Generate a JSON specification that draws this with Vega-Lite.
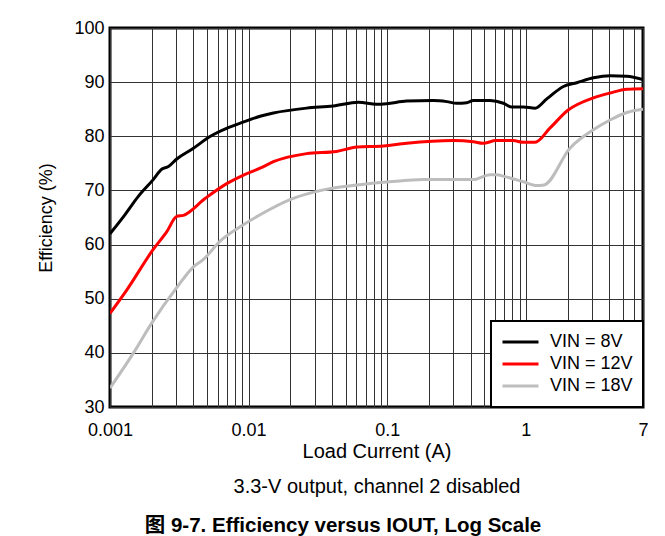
{
  "$schema": "https://vega.github.io/schema/vega-lite/v6.json",
  "width": 533,
  "height": 379,
  "autosize": {"type": "none"},
  "padding": {"left": 110, "top": 28, "right": 22, "bottom": 129},
  "title": {
    "text": "图 9-7. Efficiency versus IOUT, Log Scale",
    "orient": "bottom",
    "anchor": "middle",
    "frame": "bounds",
    "font": "Liberation Sans, Noto Sans CJK SC",
    "fontSize": 20.5,
    "fontWeight": "bold",
    "color": "black",
    "offset": 20
  },
  "data": {
    "values": [
      {"x": 0.001, "eff": 62.0, "s": "VIN = 8V"},
      {"x": 0.00128, "eff": 65.5, "s": "VIN = 8V"},
      {"x": 0.0016, "eff": 68.9, "s": "VIN = 8V"},
      {"x": 0.00205, "eff": 72.0, "s": "VIN = 8V"},
      {"x": 0.00236, "eff": 73.9, "s": "VIN = 8V"},
      {"x": 0.00264, "eff": 74.4, "s": "VIN = 8V"},
      {"x": 0.00303, "eff": 75.8, "s": "VIN = 8V"},
      {"x": 0.0039, "eff": 77.6, "s": "VIN = 8V"},
      {"x": 0.0053, "eff": 80.0, "s": "VIN = 8V"},
      {"x": 0.007, "eff": 81.5, "s": "VIN = 8V"},
      {"x": 0.0091, "eff": 82.6, "s": "VIN = 8V"},
      {"x": 0.0121, "eff": 83.7, "s": "VIN = 8V"},
      {"x": 0.0151, "eff": 84.3, "s": "VIN = 8V"},
      {"x": 0.0262, "eff": 85.2, "s": "VIN = 8V"},
      {"x": 0.0408, "eff": 85.6, "s": "VIN = 8V"},
      {"x": 0.062, "eff": 86.3, "s": "VIN = 8V"},
      {"x": 0.084, "eff": 85.9, "s": "VIN = 8V"},
      {"x": 0.099, "eff": 86.0, "s": "VIN = 8V"},
      {"x": 0.138, "eff": 86.5, "s": "VIN = 8V"},
      {"x": 0.215, "eff": 86.6, "s": "VIN = 8V"},
      {"x": 0.269, "eff": 86.4, "s": "VIN = 8V"},
      {"x": 0.317, "eff": 86.1, "s": "VIN = 8V"},
      {"x": 0.375, "eff": 86.2, "s": "VIN = 8V"},
      {"x": 0.418, "eff": 86.6, "s": "VIN = 8V"},
      {"x": 0.552, "eff": 86.6, "s": "VIN = 8V"},
      {"x": 0.689, "eff": 86.1, "s": "VIN = 8V"},
      {"x": 0.791, "eff": 85.4, "s": "VIN = 8V"},
      {"x": 0.96, "eff": 85.4, "s": "VIN = 8V"},
      {"x": 1.165, "eff": 85.2, "s": "VIN = 8V"},
      {"x": 1.415, "eff": 86.9, "s": "VIN = 8V"},
      {"x": 1.866, "eff": 89.2, "s": "VIN = 8V"},
      {"x": 2.33, "eff": 89.9, "s": "VIN = 8V"},
      {"x": 3.07, "eff": 90.8, "s": "VIN = 8V"},
      {"x": 4.05, "eff": 91.2, "s": "VIN = 8V"},
      {"x": 5.35, "eff": 91.1, "s": "VIN = 8V"},
      {"x": 7, "eff": 90.5, "s": "VIN = 8V"},

      {"x": 0.001, "eff": 47.3, "s": "VIN = 12V"},
      {"x": 0.00132, "eff": 51.6, "s": "VIN = 12V"},
      {"x": 0.00205, "eff": 59.1, "s": "VIN = 12V"},
      {"x": 0.00257, "eff": 62.4, "s": "VIN = 12V"},
      {"x": 0.00303, "eff": 65.2, "s": "VIN = 12V"},
      {"x": 0.00338, "eff": 65.4, "s": "VIN = 12V"},
      {"x": 0.0049, "eff": 68.6, "s": "VIN = 12V"},
      {"x": 0.007, "eff": 71.3, "s": "VIN = 12V"},
      {"x": 0.0091, "eff": 72.8, "s": "VIN = 12V"},
      {"x": 0.0121, "eff": 74.1, "s": "VIN = 12V"},
      {"x": 0.0151, "eff": 75.3, "s": "VIN = 12V"},
      {"x": 0.0262, "eff": 76.8, "s": "VIN = 12V"},
      {"x": 0.043, "eff": 77.2, "s": "VIN = 12V"},
      {"x": 0.0604, "eff": 78.0, "s": "VIN = 12V"},
      {"x": 0.094, "eff": 78.2, "s": "VIN = 12V"},
      {"x": 0.138, "eff": 78.7, "s": "VIN = 12V"},
      {"x": 0.3, "eff": 79.2, "s": "VIN = 12V"},
      {"x": 0.418, "eff": 79.0, "s": "VIN = 12V"},
      {"x": 0.49, "eff": 78.7, "s": "VIN = 12V"},
      {"x": 0.61, "eff": 79.2, "s": "VIN = 12V"},
      {"x": 0.81, "eff": 79.2, "s": "VIN = 12V"},
      {"x": 0.96, "eff": 78.9, "s": "VIN = 12V"},
      {"x": 1.165, "eff": 78.9, "s": "VIN = 12V"},
      {"x": 1.49, "eff": 81.5, "s": "VIN = 12V"},
      {"x": 2.01, "eff": 84.8, "s": "VIN = 12V"},
      {"x": 3.07, "eff": 87.1, "s": "VIN = 12V"},
      {"x": 4.05, "eff": 88.0, "s": "VIN = 12V"},
      {"x": 5.35, "eff": 88.7, "s": "VIN = 12V"},
      {"x": 7, "eff": 88.8, "s": "VIN = 12V"},

      {"x": 0.001, "eff": 33.5, "s": "VIN = 18V"},
      {"x": 0.00147, "eff": 39.9, "s": "VIN = 18V"},
      {"x": 0.002, "eff": 45.5, "s": "VIN = 18V"},
      {"x": 0.003, "eff": 51.9, "s": "VIN = 18V"},
      {"x": 0.004, "eff": 55.9, "s": "VIN = 18V"},
      {"x": 0.0047, "eff": 57.2, "s": "VIN = 18V"},
      {"x": 0.0062, "eff": 60.6, "s": "VIN = 18V"},
      {"x": 0.0091, "eff": 63.6, "s": "VIN = 18V"},
      {"x": 0.0121, "eff": 65.5, "s": "VIN = 18V"},
      {"x": 0.0199, "eff": 68.3, "s": "VIN = 18V"},
      {"x": 0.0346, "eff": 70.1, "s": "VIN = 18V"},
      {"x": 0.0604, "eff": 71.0, "s": "VIN = 18V"},
      {"x": 0.104, "eff": 71.6, "s": "VIN = 18V"},
      {"x": 0.183, "eff": 72.0, "s": "VIN = 18V"},
      {"x": 0.418, "eff": 72.0, "s": "VIN = 18V"},
      {"x": 0.552, "eff": 72.9, "s": "VIN = 18V"},
      {"x": 0.61, "eff": 72.9, "s": "VIN = 18V"},
      {"x": 0.72, "eff": 72.5, "s": "VIN = 18V"},
      {"x": 0.96, "eff": 71.6, "s": "VIN = 18V"},
      {"x": 1.2, "eff": 70.9, "s": "VIN = 18V"},
      {"x": 1.35, "eff": 71.0, "s": "VIN = 18V"},
      {"x": 2.08, "eff": 77.8, "s": "VIN = 18V"},
      {"x": 3.07, "eff": 81.2, "s": "VIN = 18V"},
      {"x": 4.05, "eff": 83.0, "s": "VIN = 18V"},
      {"x": 5.35, "eff": 84.4, "s": "VIN = 18V"},
      {"x": 7, "eff": 85.0, "s": "VIN = 18V"}
    ]
  },
  "mark": {"type": "line", "strokeWidth": 3, "clip": true, "interpolate": "monotone"},
  "encoding": {
    "x": {
      "field": "x",
      "type": "quantitative",
      "scale": {"type": "log", "domain": [0.001, 7], "nice": false},
      "axis": {
        "title": ["Load Current (A)", "3.3-V output, channel 2 disabled"],
        "titleFontSize": 20,
        "titleLineHeight": 35,
        "titleFontWeight": "normal",
        "titlePadding": 2,
        "values": [0.001, 0.002, 0.003, 0.004, 0.005, 0.006, 0.007, 0.008, 0.009, 0.01, 0.02, 0.03, 0.04, 0.05, 0.06, 0.07, 0.08, 0.09, 0.1, 0.2, 0.3, 0.4, 0.5, 0.6, 0.7, 0.8, 0.9, 1, 2, 3, 4, 5, 6, 7],
        "format": "~g",
        "labelExpr": "indexof([0.001, 0.01, 0.1, 1, 7], datum.value) >= 0 ? datum.label : ''",
        "labelOverlap": false,
        "labelFlush": false,
        "labelPadding": 14,
        "ticks": false,
        "domain": false,
        "grid": true
      }
    },
    "y": {
      "field": "eff",
      "type": "quantitative",
      "scale": {"domain": [30, 100], "nice": false, "zero": false},
      "axis": {
        "title": "Efficiency (%)",
        "titleFontSize": 18,
        "titleFontWeight": "normal",
        "titlePadding": 18,
        "values": [30, 40, 50, 60, 70, 80, 90, 100],
        "labelPadding": 6,
        "ticks": false,
        "domain": false,
        "grid": true
      }
    },
    "color": {
      "field": "s",
      "type": "nominal",
      "scale": {"domain": ["VIN = 8V", "VIN = 12V", "VIN = 18V"], "range": ["#000000", "#ff0000", "#bdbdbd"]},
      "legend": {
        "title": null,
        "orient": "bottom-right",
        "offset": 0,
        "symbolType": "stroke",
        "symbolSize": 1296,
        "symbolStrokeWidth": 3,
        "labelFontSize": 18,
        "labelOffset": 10,
        "clipHeight": 22,
        "rowPadding": 0,
        "padding": 10,
        "fillColor": "white",
        "strokeColor": "black"
      }
    }
  },
  "config": {
    "font": "Liberation Sans",
    "view": {"stroke": "black", "strokeWidth": 3},
    "axis": {
      "labelFont": "Liberation Sans",
      "titleFont": "Liberation Sans",
      "labelFontSize": 18,
      "labelColor": "black",
      "titleColor": "black",
      "gridColor": "#333333",
      "gridOpacity": 1,
      "gridWidth": 1
    },
    "legend": {"strokeWidth": 2, "labelColor": "black", "labelFont": "Liberation Sans"}
  }
}
